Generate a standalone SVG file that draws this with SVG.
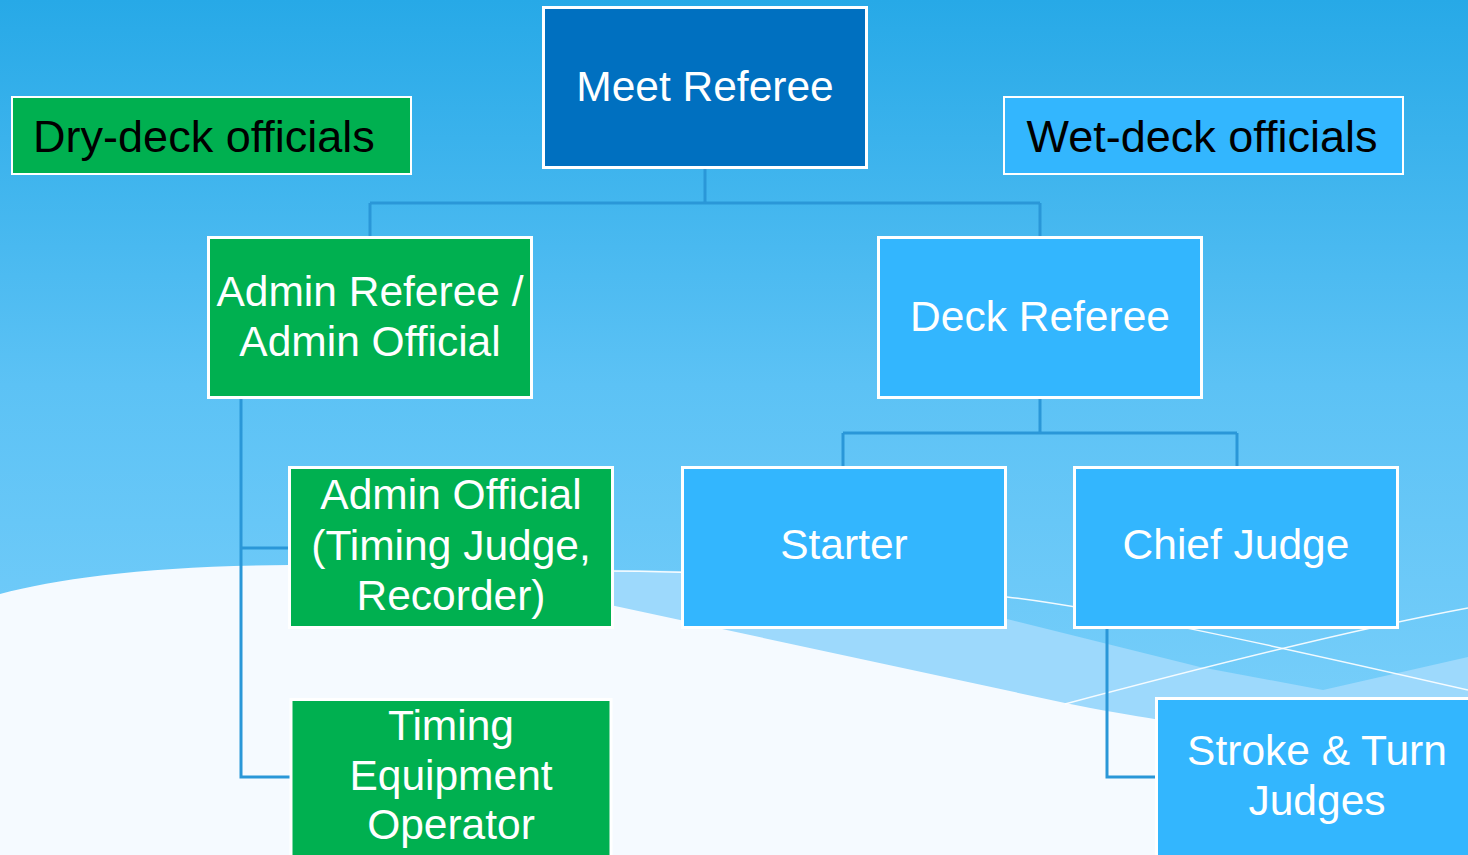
<svg xmlns="http://www.w3.org/2000/svg" width="1468" height="855" viewBox="0 0 1468 855">
  <defs>
    <linearGradient id="sky" x1="0" y1="0" x2="0" y2="1">
      <stop offset="0" stop-color="#27a9e7"/>
      <stop offset="0.45" stop-color="#5cc2f5"/>
      <stop offset="1" stop-color="#82d3fc"/>
    </linearGradient>
  </defs>
  <style>
    .box { stroke: #ffffff; stroke-width: 3; }
    .green { fill: #00b050; }
    .dark { fill: #0070c0; }
    .light { fill: #33b6fe; }
    .t { font-family: "Liberation Sans", "Open Sans", sans-serif; font-size: 42.5px; fill: #ffffff; text-anchor: middle; }
    .lbl { font-family: "Liberation Sans", "Open Sans", sans-serif; font-size: 45px; fill: #000000; text-anchor: middle; }
    .conn { fill: none; stroke: #2a97d8; stroke-width: 3; }
    .wline { fill: none; stroke: #ffffff; stroke-width: 1.5; opacity: 0.9; }
  </style>

  <!-- background -->
  <rect x="0" y="0" width="1468" height="855" fill="url(#sky)"/>
  <path d="M400,566 L680,571 L1003,618 L1200,667 L1323,690 L1468,657 L1468,820 L400,820 Z" fill="#9dd9fc"/>
  <path d="M0,594 C60,578 150,566 290,565 C420,565 530,585 615,606 L1065,703 C1100,710 1130,715 1160,720 L1468,760 L1468,855 L0,855 Z" fill="#f5faff"/>
  <path class="wline" d="M600,571 C750,571 900,585 1007,597 C1100,608 1250,640 1468,690"/>
  <path class="wline" d="M1065,704 C1200,668 1350,630 1468,608"/>

  <!-- connectors -->
  <g id="connectors">
    <path class="conn" d="M705,169 V203 M370,203 H1040 M370,203 V237 M1040,203 V237"/>
    <path class="conn" d="M1040,399 V433 M843,433 H1237 M843,433 V467 M1237,433 V467"/>
    <path class="conn" d="M241,399 V777 H291 M241,548 H289"/>
    <path class="conn" d="M1107,628 V777 H1156"/>
  </g>

  <g id="dry-deck">
    <rect class="green" x="12" y="97" width="399" height="77" stroke="#ffffff" stroke-width="2"/>
    <text class="lbl" x="204" y="152">Dry-deck officials</text>
  </g>
  <g id="wet-deck">
    <rect class="light" x="1004" y="97" width="399" height="77" stroke="#ffffff" stroke-width="2"/>
    <text class="lbl" x="1202" y="152">Wet-deck officials</text>
  </g>
  <g id="meet-referee">
    <rect class="box dark" x="543.5" y="7.5" width="323" height="160"/>
    <text class="t" x="705" y="101">Meet Referee</text>
  </g>
  <g id="admin-referee">
    <rect class="box green" x="208.5" y="237.5" width="323" height="160"/>
    <text class="t" x="370" y="306">Admin Referee /<tspan x="370" y="356">Admin Official</tspan></text>
  </g>
  <g id="deck-referee">
    <rect class="box light" x="878.5" y="237.5" width="323" height="160"/>
    <text class="t" x="1040" y="331">Deck Referee</text>
  </g>
  <g id="admin-official">
    <rect class="box green" x="289.5" y="467.5" width="323" height="160"/>
    <text class="t" x="451" y="509">Admin Official<tspan x="451" y="560">(Timing Judge,</tspan><tspan x="451" y="610">Recorder)</tspan></text>
  </g>
  <g id="timing-operator">
    <rect class="box green" x="291" y="699.5" width="320" height="170"/>
    <text class="t" x="451" y="740">Timing<tspan x="451" y="790">Equipment</tspan><tspan x="451" y="839">Operator</tspan></text>
  </g>
  <g id="starter">
    <rect class="box light" x="682.5" y="467.5" width="323" height="160"/>
    <text class="t" x="844" y="559">Starter</text>
  </g>
  <g id="chief-judge">
    <rect class="box light" x="1074.5" y="467.5" width="323" height="160"/>
    <text class="t" x="1236" y="559">Chief Judge</text>
  </g>
  <g id="stroke-turn">
    <rect class="box light" x="1156.5" y="698.5" width="330" height="170"/>
    <text class="t" x="1317" y="765">Stroke &amp; Turn<tspan x="1317" y="815">Judges</tspan></text>
  </g>
</svg>
